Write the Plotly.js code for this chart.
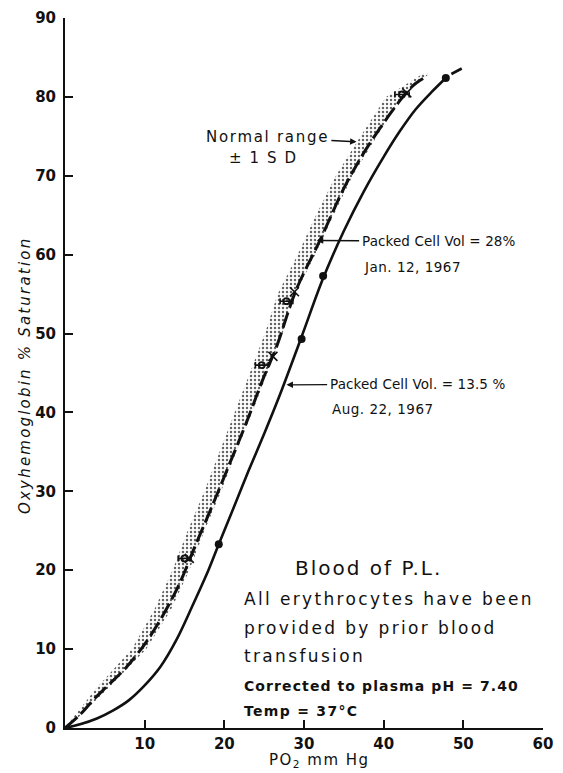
<!DOCTYPE html>
<html><head><meta charset="utf-8">
<script src="https://cdn.plot.ly/plotly-3.0.1.min.js"></script>
<style>body{margin:0;background:#fff}#chart{width:563px;height:773px}</style>
</head><body><div id="chart"></div>
<script>
// Packed cell vol 13.5% (Aug 22, 1967) curve
const pcv135X = [0, 2, 4, 6, 8, 10, 12, 14, 16, 18, 19.3, 21, 23, 25, 27, 29.7, 32.4, 35, 37.5, 40, 42, 44, 46, 47.8];
const pcv135Y = [0, 0.5, 1.2, 2.2, 3.5, 5.4, 7.8, 11.2, 15.5, 20.0, 23.3, 27.5, 32.5, 37.3, 42.3, 49.6, 57.0, 63.0, 68.0, 72.4, 75.6, 78.4, 80.6, 82.4];
const pcv135ExtX = [48.5, 49.8];
const pcv135ExtY = [82.9, 83.6];
const pcv135PtsX = [19.3, 29.7, 32.4, 47.8];
const pcv135PtsY = [23.3, 49.3, 57.3, 82.4];

// Packed cell vol 28% (Jan 12, 1967) curve
const pcv28X = [0, 2, 3.5, 5.5, 7.7, 10.6, 14, 16.3, 18.5, 20.7, 22.8, 24.8, 26.5, 29, 32, 35, 37.5, 40, 41.8, 42.8, 44, 45.4];
const pcv28Y = [0, 1.8, 3.5, 5.5, 7.7, 11.5, 17.5, 23.0, 28.2, 33.6, 38.8, 44.1, 48.2, 55.5, 61.8, 68.4, 72.9, 76.7, 79.2, 80.5, 81.7, 82.6];
const pcv28PtsX = [15.6, 26.1, 28.8, 42.9];
const pcv28PtsY = [21.5, 47.1, 55.3, 80.5];

// Normal range (mean ± 1 SD)
const normalMeanX = [15.0, 24.7, 27.8, 42.3];
const normalMeanY = [21.5, 46.0, 54.1, 80.3];
const normalSD = [0.8, 0.8, 0.8, 0.9];
const bandY = [0, 5, 10, 15, 20, 25, 30, 35, 40, 45, 50, 55, 60, 65, 70, 75, 80, 83];
const bandLeftX = [0, 3.9, 8.4, 11.2, 13.5, 15.4, 17.5, 19.4, 21.3, 23.2, 25.1, 26.7, 29.2, 31.5, 34.0, 37.1, 40.3, 45.0];
const bandRightX = [0.3, 5.4, 10.2, 13.3, 15.6, 17.5, 19.6, 21.5, 23.5, 25.4, 27.3, 28.9, 31.4, 33.7, 36.1, 39.1, 42.2, 45.8];

const xTicks = [10, 20, 30, 40, 50, 60];
const yTicks = [0, 10, 20, 30, 40, 50, 60, 70, 80, 90];

const F = 'DejaVu Sans, sans-serif';
const INK = '#111';
const sp = (t, s) => '<span style="letter-spacing:' + s + 'px">' + t + '</span>';

const bandPolyX = bandLeftX.concat(bandRightX.slice().reverse());
const bandPolyY = bandY.concat(bandY.slice().reverse());

const traces = [
  {x: bandPolyX, y: bandPolyY, type: 'scatter', mode: 'lines', fill: 'toself',
   line: {width: 0, color: 'rgba(0,0,0,0)'}, fillcolor: 'rgba(0,0,0,0)',
   fillpattern: {shape: '.', size: 4, solidity: 0.3, fgcolor: '#666', bgcolor: 'rgba(255,255,255,0)'},
   hoverinfo: 'skip', showlegend: false},
  {x: pcv135X, y: pcv135Y, type: 'scatter', mode: 'lines', line: {color: INK, width: 2.6, shape: 'spline', smoothing: 1.0}, showlegend: false},
  {x: pcv135ExtX, y: pcv135ExtY, type: 'scatter', mode: 'lines', line: {color: INK, width: 2.6}, showlegend: false},
  {x: pcv135PtsX, y: pcv135PtsY, type: 'scatter', mode: 'markers', marker: {symbol: 'circle', size: 8, color: INK}, showlegend: false},
  {x: pcv28X, y: pcv28Y, type: 'scatter', mode: 'lines', line: {color: INK, width: 3, dash: '16px,5px', shape: 'spline', smoothing: 1.0}, showlegend: false},
  {x: normalMeanX, y: normalMeanY, type: 'scatter', mode: 'markers',
   marker: {symbol: 'circle-open', size: 6, color: INK, line: {width: 1.8, color: INK}},
   error_x: {type: 'data', array: normalSD, color: INK, thickness: 1.6, width: 3}, showlegend: false},
  {x: pcv28PtsX, y: pcv28PtsY, type: 'scatter', mode: 'markers',
   marker: {symbol: 'x-thin-open', size: 9, color: INK, line: {width: 1.6, color: INK}}, showlegend: false}
];

const ann = [];
function txt(x, y, t, size, extra) {
  ann.push(Object.assign({x: x, y: y, xref: 'x', yref: 'y', text: t, showarrow: false,
    xanchor: 'left', yanchor: 'middle', font: {family: F, size: size, color: INK}}, extra || {}));
}
// label with an arrow: text box centred at (tx, ty), arrow pointing to (x, y)
function lab(x, y, tx, ty, t, size) {
  ann.push({x: x, y: y, xref: 'x', yref: 'y', ax: tx, ay: ty, axref: 'x', ayref: 'y', text: t,
    showarrow: true, arrowhead: 2, arrowsize: 1, arrowwidth: 1.3, arrowcolor: INK, standoff: 0,
    borderpad: 2, font: {family: F, size: size, color: INK}});
}
lab(36.6, 74.3, 25.4, 74.9, sp('Normal range', 1.7), 15);
txt(20.3, 72.3, sp('± 1 S D', 1.6), 15);
lab(31.6, 61.8, 46.9, 61.7, sp('Packed Cell Vol = 28%', 0.1), 13.5);
txt(37.3, 58.4, sp('Jan. 12, 1967', 0.5), 13.5);
lab(27.8, 43.5, 44.2, 43.6, sp('Packed Cell Vol. = 13.5 %', 0.1), 13.5);
txt(33.3, 40.4, sp('Aug. 22, 1967', 0.5), 13.5);
txt(28.6, 20.3, sp('Blood of P.L.', 2), 20);
txt(22.2, 16.4, sp('All erythrocytes have been', 2.35), 17);
txt(22.2, 12.7, sp('provided by prior blood', 2.35), 17);
txt(22.2, 9.1, sp('transfusion', 2.35), 17);
txt(22.2, 5.3, sp('Corrected to plasma pH = 7.40', 1.1), 14, {font: {family: F, size: 14, color: INK, weight: 'bold'}});
txt(22.2, 2.2, sp('Temp = 37°C', 1.3), 14, {font: {family: F, size: 14, color: INK, weight: 'bold'}});
// axis titles
ann.push({x: 0.533, y: -0.046, xref: 'paper', yref: 'paper', text: sp('PO<sub>2</sub> mm Hg', 1.5), showarrow: false,
  xanchor: 'center', yanchor: 'middle', font: {family: F, size: 15, color: INK}});
ann.push({x: -0.084, y: 0.497, xref: 'paper', yref: 'paper', text: sp('Oxyhemoglobin % Saturation', 2.2), showarrow: false,
  textangle: -90, xanchor: 'center', yanchor: 'middle', font: {family: F, size: 15, color: INK, style: 'italic'}});

const layout = {
  width: 563, height: 773,
  margin: {l: 65, r: 20, t: 18, b: 45},
  paper_bgcolor: '#fff', plot_bgcolor: '#fff',
  showlegend: false,
  font: {family: F, color: INK},
  xaxis: {range: [0, 60], showgrid: false, zeroline: false, showline: true, linecolor: INK, linewidth: 2,
    ticks: 'inside', ticklen: 8, tickwidth: 2, tickcolor: INK, tickvals: xTicks,
    tickfont: {family: F, size: 15, color: INK, weight: 'bold'}, ticklabelstandoff: 1},
  yaxis: {range: [0, 90], showgrid: false, zeroline: false, showline: true, linecolor: INK, linewidth: 2,
    ticks: 'inside', ticklen: 8, tickwidth: 2, tickcolor: INK, tickvals: yTicks,
    tickfont: {family: F, size: 15, color: INK, weight: 'bold'}, ticklabelstandoff: 4},
  annotations: ann
};
Plotly.newPlot('chart', traces, layout, {displayModeBar: false, staticPlot: true});
</script></body></html>
